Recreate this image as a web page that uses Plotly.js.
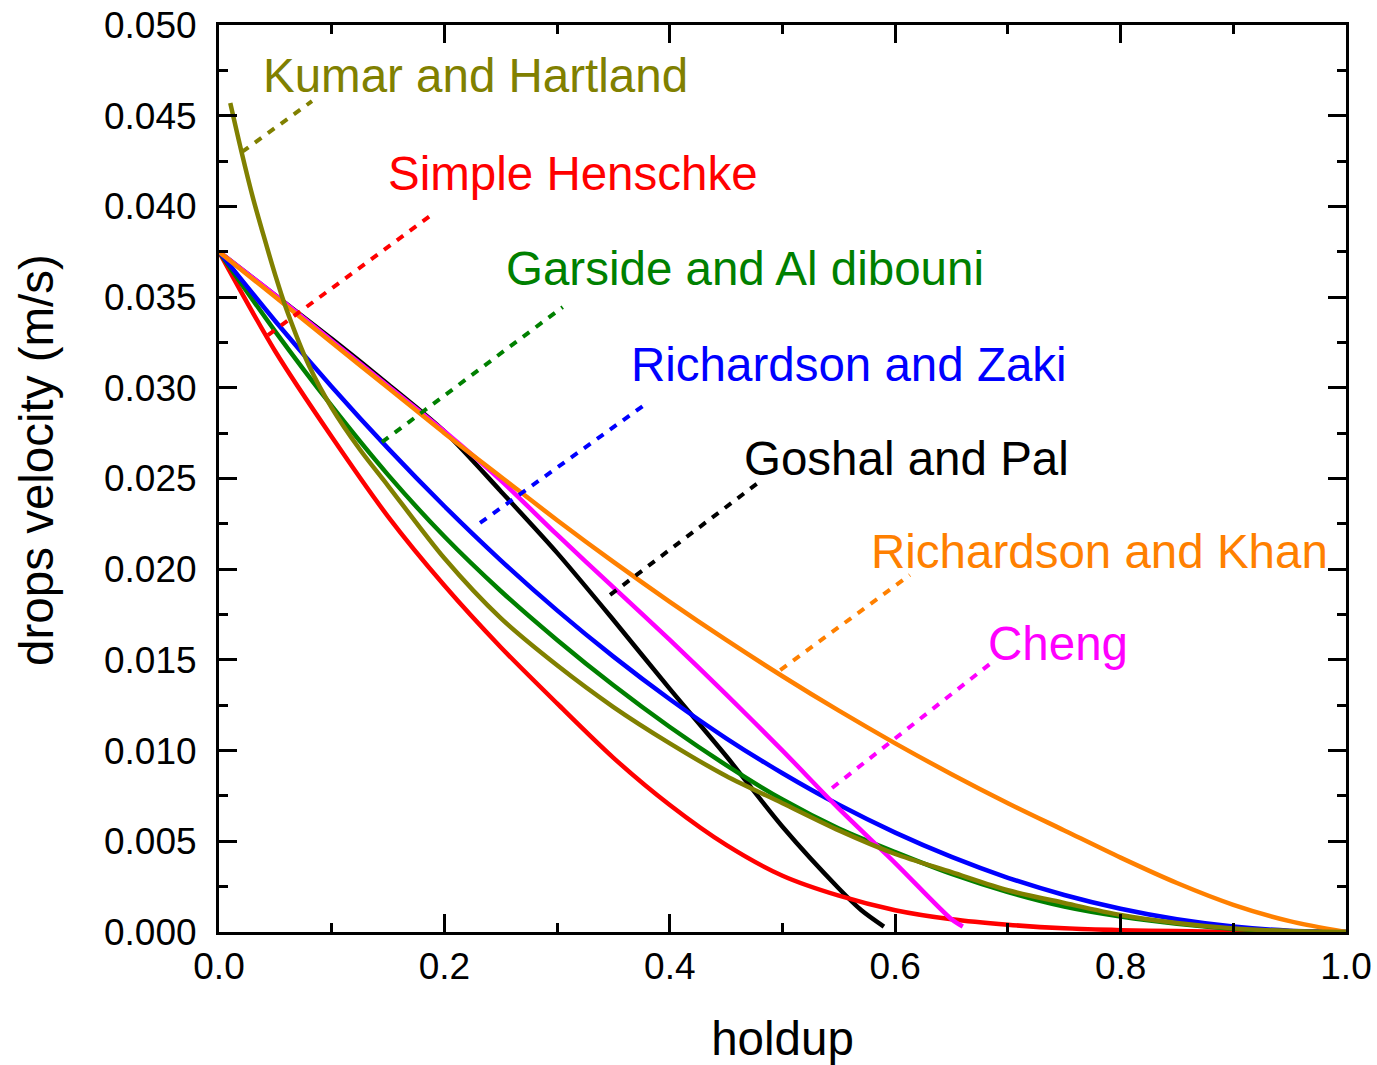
<!DOCTYPE html>
<html>
<head>
<meta charset="utf-8">
<script src="https://cdn.plot.ly/plotly-3.0.1.min.js"></script>
<style>html,body{margin:0;padding:0;background:#fff;}#chart{width:1377px;height:1065px;}</style>
</head>
<body>
<div id="chart"></div>
<script>
// ---- data ----
const holdupGrid = [0,0.05,0.1,0.15,0.2,0.25,0.3,0.35,0.4,0.45,0.5,0.55,0.6,0.65,0.7,0.75,0.8,0.85,0.9,0.95,1.0];

const henschkeY = [0.0375,0.0320,0.0273,0.0229,0.0191,0.0157,0.0126,0.0096,0.0070,0.0048,0.0031,0.0020,0.0012,0.0007,0.0004,0.0002,0.0001,0.00005,0.00002,0.000005,0];
const garsideY  = [0.0375,0.0331,0.0290,0.0252,0.0218,0.0188,0.0161,0.0136,0.0113,0.0092,0.0073,0.0057,0.0044,0.0032,0.0022,0.0014,0.00085,0.00045,0.00018,0.00004,0];
const zakiY     = [0.0375,0.03367,0.03006,0.02666,0.02347,0.02049,0.01773,0.01518,0.01283,0.01068,0.00875,0.00701,0.00548,0.00414,0.00299,0.00204,0.00128,0.00070,0.00030,0.00007,0];
const khanY     = [0.0375,0.0350,0.0325,0.0300,0.0275,0.0251,0.0227,0.0204,0.0182,0.0161,0.0141,0.0122,0.0104,0.0087,0.0071,0.0056,0.0041,0.0027,0.0015,0.0006,0];

const kumarX = [0.01,0.02,0.03,0.04,0.05,0.06,0.08,0.1,0.125,0.15,0.2,0.25,0.3,0.35,0.4,0.45,0.5,0.55,0.6,0.65,0.7,0.75,0.8,0.85,0.9,0.95,1.0];
const kumarY = [0.0457,0.0430,0.0405,0.0383,0.0362,0.0343,0.0312,0.0289,0.0266,0.0246,0.0206,0.0173,0.0147,0.0124,0.0104,0.0086,0.0071,0.0056,0.0043,0.0033,0.0023,0.0016,0.00094,0.0005,0.0002,0.00005,0];

const chengX = [0,0.05,0.1,0.15,0.2,0.25,0.3,0.35,0.4,0.45,0.5,0.55,0.6,0.65,0.66];
const chengY = [0.0375,0.0351,0.0326,0.0301,0.0276,0.0249,0.0219,0.0190,0.0161,0.0131,0.0100,0.0068,0.0038,0.0007,0.0003];

const goshalX = [0,0.05,0.1,0.15,0.2,0.25,0.3,0.35,0.4,0.45,0.5,0.55,0.57,0.59];
const goshalY = [0.0375,0.0351,0.0327,0.0302,0.0276,0.0243,0.0209,0.0172,0.0134,0.0097,0.0058,0.0024,0.0012,0.0003];

// labels and leader lines
const labelTexts  = ['Kumar and Hartland','Simple Henschke','Garside and Al dibouni','Richardson and Zaki','Goshal and Pal','Richardson and Khan','Cheng'];
const labelColors = ['#808000','#FF0000','#008000','#0000FF','#000000','#FF8000','#FF00FF'];
const labelX = [0.0381,0.1490,0.2537,0.3646,0.4649,0.5776,0.6814];
const labelY = [0.0472,0.0418,0.03655,0.03126,0.02613,0.0210,0.01593];
const leaderX0 = [0.0204,0.0435,0.1446,0.2316,0.347,0.498,0.544];
const leaderY0 = [0.0430,0.0329,0.0270,0.02255,0.01858,0.01444,0.00794];
const leaderX1 = [0.0825,0.190,0.305,0.3798,0.478,0.613,0.6886];
const leaderY1 = [0.0458,0.0396,0.03445,0.02916,0.02475,0.01968,0.0150];

const fontFam = 'Liberation Sans, Arial, sans-serif';

function line(x, y, color, name) {
  return {x: x, y: y, type: 'scatter', mode: 'lines', name: name,
          line: {color: color, width: 4.5, shape: 'spline', smoothing: 0.8},
          hoverinfo: 'x+y'};
}

const traces = [
  line(goshalX, goshalY, '#000000', 'Goshal and Pal'),
  line(holdupGrid, henschkeY, '#FF0000', 'Simple Henschke'),
  line(holdupGrid, garsideY, '#008000', 'Garside and Al dibouni'),
  line(holdupGrid, zakiY, '#0000FF', 'Richardson and Zaki'),
  line(chengX, chengY, '#FF00FF', 'Cheng'),
  line(holdupGrid, khanY, '#FF8000', 'Richardson and Khan'),
  line(kumarX, kumarY, '#808000', 'Kumar and Hartland')
];

const shapes = labelTexts.map((t, i) => ({
  type: 'line', xref: 'x', yref: 'y',
  x0: leaderX0[i], y0: leaderY0[i], x1: leaderX1[i], y1: leaderY1[i],
  line: {color: labelColors[i], width: 4, dash: '8px,8px'}
}));

const annotations = labelTexts.map((t, i) => ({
  x: labelX[i], y: labelY[i], xref: 'x', yref: 'y', text: t, showarrow: false,
  xanchor: 'left', yanchor: 'middle', borderpad: 0,
  font: {family: fontFam, size: 47.5, color: labelColors[i]}
}));

// y-axis title placed as a rotated annotation to match the reference position
annotations.push({
  x: -0.162, y: 0.521, xref: 'paper', yref: 'paper', text: 'drops velocity (m/s)',
  showarrow: false, textangle: -90, xanchor: 'center', yanchor: 'middle',
  font: {family: fontFam, size: 47.5, color: '#000'}
});

const axisCommon = {
  showline: true, linecolor: '#000', linewidth: 3, mirror: 'ticks',
  ticks: 'inside', ticklen: 18, tickwidth: 3, tickcolor: '#000',
  showgrid: false, zeroline: false,
  tickfont: {family: fontFam, size: 37, color: '#000'}
};

const layout = {
  width: 1377, height: 1065,
  margin: {l: 219, r: 31, t: 25, b: 133},
  paper_bgcolor: '#fff', plot_bgcolor: '#fff',
  showlegend: false,
  xaxis: Object.assign({}, axisCommon, {
    range: [0, 1], dtick: 0.2, tick0: 0, tickformat: '.1f',
    minor: {ticks: 'inside', ticklen: 9, tickwidth: 3, tickcolor: '#000', dtick: 0.1},
    title: {text: 'holdup', font: {family: fontFam, size: 47.5, color: '#000'}, standoff: 36}
  }),
  yaxis: Object.assign({}, axisCommon, {
    range: [0, 0.05], dtick: 0.005, tick0: 0, tickformat: '.3f',
    ticklabelstandoff: 12,
    minor: {ticks: 'inside', ticklen: 9, tickwidth: 3, tickcolor: '#000', dtick: 0.0025}
  }),
  shapes: shapes,
  annotations: annotations
};

Plotly.newPlot('chart', traces, layout, {displayModeBar: false, staticPlot: true});
</script>
</body>
</html>
